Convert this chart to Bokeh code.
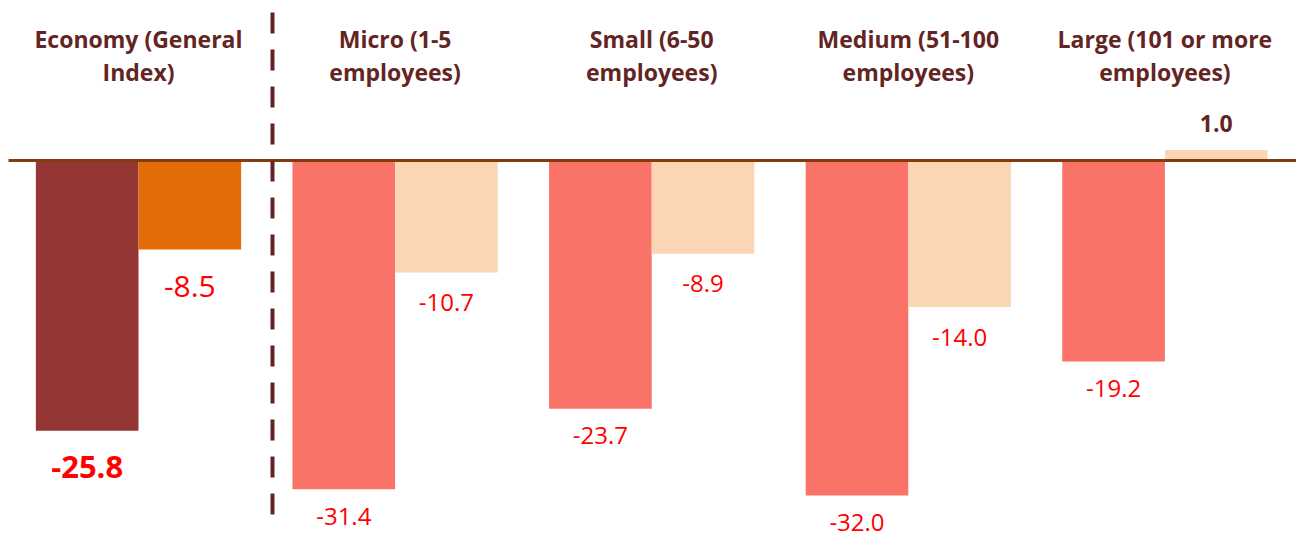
from bokeh.plotting import figure
from bokeh.models import ColumnDataSource
from bokeh.embed import file_html
from bokeh.resources import INLINE
from bokeh.core.properties import value

categories_line1 = ["Economy (General", "Micro (1-5", "Small (6-50", "Medium (51-100", "Large (101 or more"]
categories_line2 = ["Index)", "employees)", "employees)", "employees)", "employees)"]
first_values = [-25.8, -31.4, -23.7, -32.0, -19.2]
second_values = [-8.5, -10.7, -8.9, -14.0, 1.0]

first_colors = ["#943634", "#FA7369", "#FA7369", "#FA7369", "#FA7369"]
second_colors = ["#E36C09", "#FCD5B4", "#FCD5B4", "#FCD5B4", "#FCD5B4"]

W, H = 1296, 538
x0_px, step_px = 138.0, 256.6
y0_px, scale = 160.0, 10.47

def xu(px):
    return (px - x0_px) / step_px

def yu(py):
    return (y0_px - py) / scale

p = figure(width=W, height=H, output_backend="svg", toolbar_location=None,
           x_range=(xu(0), xu(W)), y_range=(yu(H), yu(0)),
           min_border=0, min_border_left=0, min_border_right=0,
           min_border_top=0, min_border_bottom=0)
p.axis.visible = False
p.grid.visible = False
p.outline_line_color = None
p.background_fill_color = "white"
p.border_fill_color = "white"

n = len(first_values)
idx = list(range(n))
bw = 0.4
src1 = ColumnDataSource(dict(x=[i - bw / 2 for i in idx], top=[0] * n, bottom=first_values, color=first_colors))
src2 = ColumnDataSource(dict(x=[i + bw / 2 for i in idx], top=[max(v, 0) for v in second_values],
                             bottom=[min(v, 0) for v in second_values], color=second_colors))
p.vbar(x="x", top="top", bottom="bottom", width=bw, fill_color="color", line_color=None, source=src1)
p.vbar(x="x", top="top", bottom="bottom", width=bw, fill_color="color", line_color=None, source=src2)

# zero line
p.segment(x0=[xu(8)], y0=[0], x1=[xu(W)], y1=[0], line_color="#843C0C", line_width=3)

# dashed separator
p.segment(x0=[xu(272)], y0=[yu(12)], x1=[xu(272)], y1=[yu(522)], line_color="#632523",
          line_width=4, line_dash="21 16")

font = value("Open Sans")
title_color = "#632523"
p.text(x=idx, y=[yu(38)] * n, text=categories_line1, text_font=font, text_font_style="bold",
       text_font_size="23px", text_color=title_color, text_align="center", text_baseline="middle")
p.text(x=idx, y=[yu(71)] * n, text=categories_line2, text_font=font, text_font_style="bold",
       text_font_size="23px", text_color=title_color, text_align="center", text_baseline="middle")

# value labels
p.text(x=[0 - bw / 2], y=[first_values[0]], text=[f"{first_values[0]:.1f}"], y_offset=36,
       text_font=font, text_font_style="bold", text_font_size="31px", text_color="#FF0000",
       text_align="center", text_baseline="middle")
p.text(x=[0 + bw / 2], y=[second_values[0]], text=[f"{second_values[0]:.1f}"], y_offset=37,
       text_font=font, text_font_size="30px", text_color="#FF0000",
       text_align="center", text_baseline="middle")
p.text(x=[i - bw / 2 for i in idx[1:]], y=first_values[1:], text=[f"{v:.1f}" for v in first_values[1:]],
       y_offset=27, text_font=font, text_font_size="24px", text_color="#FF0000",
       text_align="center", text_baseline="middle")
neg2 = [i for i in idx[1:] if second_values[i] < 0]
p.text(x=[i + bw / 2 for i in neg2], y=[second_values[i] for i in neg2],
       text=[f"{second_values[i]:.1f}" for i in neg2], y_offset=30, text_font=font,
       text_font_size="24px", text_color="#FF0000", text_align="center", text_baseline="middle")
pos2 = [i for i in idx[1:] if second_values[i] >= 0]
p.text(x=[i + bw / 2 for i in pos2], y=[second_values[i] for i in pos2],
       text=[f"{second_values[i]:.1f}" for i in pos2], y_offset=-27, text_font=font,
       text_font_style="bold", text_font_size="23px", text_color=title_color,
       text_align="center", text_baseline="middle")

open("out.html", "w").write(file_html(p, INLINE))
